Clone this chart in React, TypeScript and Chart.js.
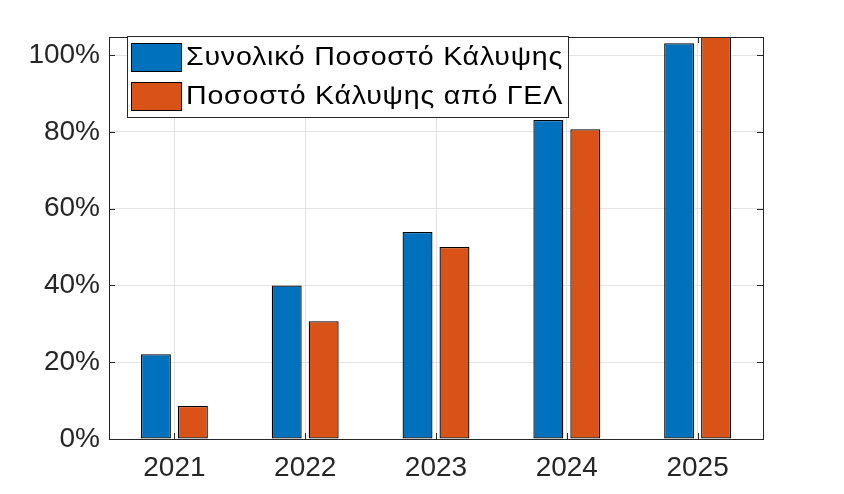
import React, { useEffect, useRef } from "react";
import { Chart, registerables } from "chart.js";

Chart.register(...registerables);

const categories = ["2021", "2022", "2023", "2024", "2025"];
const seriesNames = ["Συνολικό Ποσοστό Κάλυψης", "Ποσοστό Κάλυψης από ΓΕΛ"];
const totalCoverage = [22.1, 40.0, 53.9, 83.1, 103.1];
const gelCoverage = [8.6, 30.7, 50.0, 80.7, 106.0];
const yTicks = [0, 20, 40, 60, 80, 100];
const colors = ["#0072BD", "#D95319"];

const FONT = "'Liberation Sans', Arial, Helvetica, sans-serif";

function drawSpacedText(ctx: any, text: string, x: number, y: number, targetWidth: number) {
  const sx = 1.1;
  const base = ctx.measureText(text).width * sx;
  const n = Array.from(text).length;
  const spacing = Math.max(0, (targetWidth - base) / n) / sx;
  ctx.save();
  ctx.translate(x, y);
  ctx.scale(sx, 1);
  if ("letterSpacing" in ctx) {
    ctx.letterSpacing = `${spacing}px`;
    ctx.fillText(text, 0, 0);
  } else {
    let cx = 0;
    for (const ch of Array.from(text)) {
      ctx.fillText(ch, cx, 0);
      cx += ctx.measureText(ch).width + spacing;
    }
  }
  ctx.restore();
}

const boxPlugin = {
  id: "matlabBox",
  afterDraw(chart: any) {
    const { ctx, chartArea } = chart;
    const { left, right, top, bottom } = chartArea;
    const xs = chart.scales.x;
    const ys = chart.scales.y;
    ctx.save();
    ctx.strokeStyle = "#262626";
    ctx.lineWidth = 1;
    const tl = 6;
    ctx.beginPath();
    ys.ticks.forEach((t: any, i: number) => {
      const y = Math.round(ys.getPixelForTick(i)) + 0.5;
      ctx.moveTo(left, y);
      ctx.lineTo(left + tl, y);
      ctx.moveTo(right, y);
      ctx.lineTo(right - tl, y);
    });
    xs.ticks.forEach((t: any, i: number) => {
      const x = Math.round(xs.getPixelForValue(i)) + 0.5;
      ctx.moveTo(x, bottom);
      ctx.lineTo(x, bottom - tl);
      ctx.moveTo(x, top);
      ctx.lineTo(x, top + tl);
    });
    ctx.stroke();
    ctx.strokeRect(Math.round(left) + 0.5, Math.round(top) + 0.5, Math.round(right - left), Math.round(bottom - top));

    // legend
    const lx = 127, ly = 36, lw = 441, lh = 81;
    ctx.fillStyle = "#ffffff";
    ctx.fillRect(lx, ly, lw, lh);
    ctx.strokeStyle = "#262626";
    ctx.strokeRect(lx + 0.5, ly + 0.5, lw, lh);
    ctx.font = `26px ${FONT}`;
    ctx.textBaseline = "middle";
    ctx.textAlign = "left";
    chart.data.datasets.forEach((ds: any, i: number) => {
      const by = ly + 7 + i * 39;
      ctx.fillStyle = ds.backgroundColor;
      ctx.fillRect(131, by, 50, 28);
      ctx.strokeStyle = "#000000";
      ctx.strokeRect(131.5, by + 0.5, 50, 28);
      ctx.fillStyle = "#000000";
      drawSpacedText(ctx, ds.label, 186, by + 15, 377);
    });
    ctx.restore();
  },
};

export default function App() {
  const ref = useRef<HTMLCanvasElement>(null);
  useEffect(() => {
    if (!ref.current) return;
    const chart = new Chart(ref.current, {
      type: "bar",
      data: {
        labels: categories,
        datasets: [
          {
            label: seriesNames[0],
            data: totalCoverage,
            backgroundColor: colors[0],
            borderColor: "#000000",
            borderWidth: 1.3,
            borderSkipped: false,
            categoryPercentage: 0.565,
            barPercentage: 0.81,
          },
          {
            label: seriesNames[1],
            data: gelCoverage,
            backgroundColor: colors[1],
            borderColor: "#000000",
            borderWidth: 1.3,
            borderSkipped: false,
            categoryPercentage: 0.565,
            barPercentage: 0.81,
          },
        ],
      },
      options: {
        responsive: false,
        animation: false,
        devicePixelRatio: 1,
        layout: { padding: { top: 37, right: 81, left: 0, bottom: 0 } },
        plugins: { legend: { display: false }, tooltip: { enabled: false } },
        scales: {
          x: {
            grid: { offset: false, color: "#e3e3e3", drawTicks: false },
            border: { display: false },
            ticks: { font: { family: FONT, size: 28 }, color: "#262626", padding: 12 },
            afterFit: (s: any) => { s.height = 55; },
          },
          y: {
            min: 0,
            max: 104.7,
            afterBuildTicks: (s: any) => { s.ticks = yTicks.map((v) => ({ value: v })); },
            grid: { color: "#e3e3e3", drawTicks: false },
            border: { display: false },
            ticks: {
              font: { family: FONT, size: 28 },
              color: "#262626",
              padding: 9,
              callback: (v: any) => `${v}%`,
            },
            afterFit: (s: any) => { s.width = 109; },
          },
        },
      },
      plugins: [boxPlugin],
    });
    return () => chart.destroy();
  }, []);
  return (
    <div style={{ position: "fixed", left: 0, top: 0, width: 844, height: 494, background: "#fff" }}>
      <canvas ref={ref} width={844} height={494} />
    </div>
  );
}
